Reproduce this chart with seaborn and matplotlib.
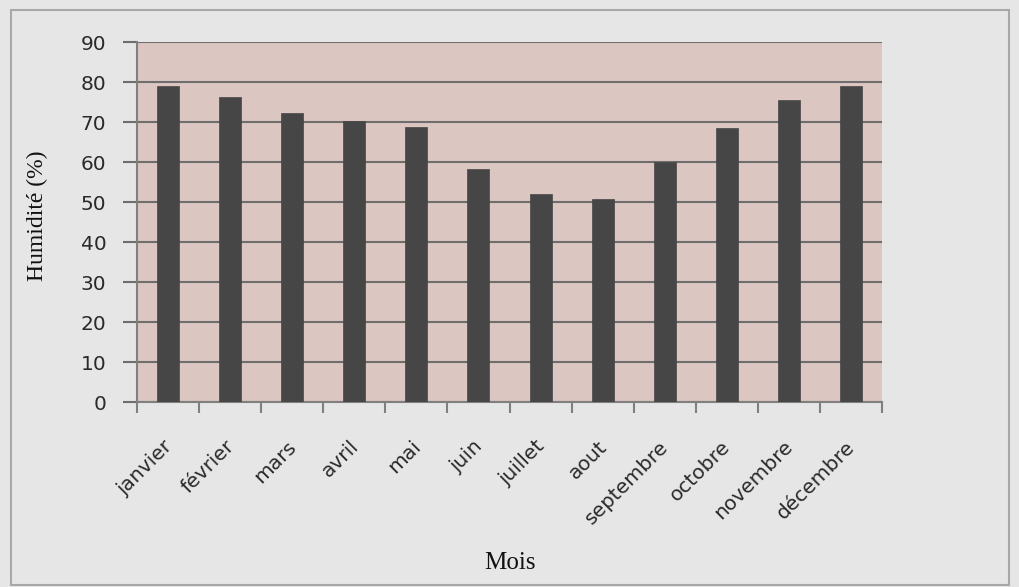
import matplotlib
matplotlib.use("Agg")
import matplotlib.pyplot as plt
import matplotlib.transforms as mtransforms
from matplotlib.patches import Rectangle
import seaborn as sns
import pandas as pd
import numpy as np

mois = ["janvier", "février", "mars", "avril", "mai", "juin", "juillet",
        "aout", "septembre", "octobre", "novembre", "décembre"]
humidite = [79, 76.3, 72.3, 70.2, 68.8, 58.3, 52.1, 50.7, 60, 68.6, 75.6, 78.9]
yticks = [0, 10, 20, 30, 40, 50, 60, 70, 80, 90]

df = pd.DataFrame({"Mois": mois, "Humidite": humidite})

sns.set_style("white")
plt.rcParams["font.family"] = ["DejaVu Sans"]

fig = plt.figure(figsize=(10.19, 5.87), dpi=100, facecolor="#e6e6e6")
ax = fig.add_axes([137/1019, 1-402/587, (882-137)/1019, (402-42)/587])
ax.set_facecolor("#dcc6c1")

sns.barplot(data=df, x="Mois", y="Humidite", color="#464646", width=0.355,
            saturation=1, ax=ax, zorder=3, edgecolor="#464646", linewidth=0.5)

ax.set_xlim(-0.5, len(mois) - 0.5)
ax.set_ylim(0, 90)
ax.set_yticks(yticks)
ax.yaxis.grid(True, color="#6e6e6e", linewidth=1.5, zorder=1)
ax.set_axisbelow(True)

for s in ["top", "right"]:
    ax.spines[s].set_visible(False)
for s in ["left", "bottom"]:
    ax.spines[s].set_color("#808080")
    ax.spines[s].set_linewidth(1.5)

ax.tick_params(axis="y", direction="out", length=10, width=1.5, color="#6e6e6e",
               pad=12, labelsize=14.5, labelcolor="#2a2a2a", left=True)
# x ticks at category boundaries
ax.set_xticks(np.arange(-0.5, len(mois), 1.0), minor=True)
ax.tick_params(axis="x", which="minor", direction="out", length=8, width=1.5,
               color="#808080", bottom=True)
ax.tick_params(axis="x", which="major", length=0, pad=30, labelsize=14.5,
               labelcolor="#2a2a2a")
offset = mtransforms.ScaledTranslation(1/100, 0, fig.dpi_scale_trans)
for lab in ax.get_xticklabels():
    lab.set_rotation(45)
    lab.set_ha("right")
    lab.set_va("center")
    lab.set_rotation_mode("anchor")
    lab.set_transform(lab.get_transform() + offset)

ax.set_xlabel("Mois", family="Liberation Serif", fontsize=18, color="#111111",
              labelpad=0)
ax.xaxis.set_label_coords(0.5, -(563-402)/360, transform=ax.transAxes)
ax.xaxis.label.set_va("center")
ax.set_ylabel("Humidité (%)", family="Liberation Serif", fontsize=17,
              color="#111111")
ax.yaxis.set_label_coords(-(137-37)/745, (402-216)/360)
ax.yaxis.label.set_va("center")

fig.patches.append(Rectangle((11/1019, 1-585/587), (1009-11)/1019, (585-10)/587,
                             transform=fig.transFigure, fill=False,
                             edgecolor="#a8a8a8", linewidth=1.5))

fig.savefig("out.png", dpi=100, facecolor=fig.get_facecolor())
